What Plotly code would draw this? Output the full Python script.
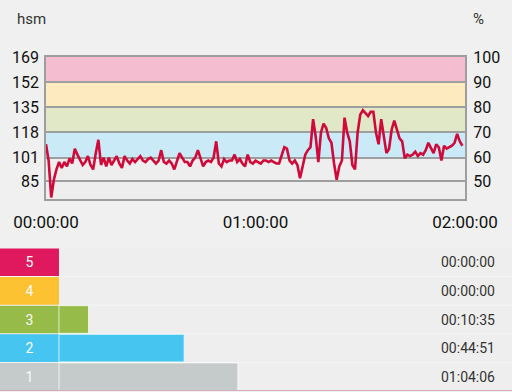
import plotly.graph_objects as go

# ---------------- data ----------------
SAMPLE_SECONDS = 45
heart_rate = [
    110, 99, 74, 86, 93, 98, 94, 98, 95, 100.5, 97, 107, 103, 99, 96, 98, 102, 96, 93, 104,
    113, 96, 101, 95, 101, 96, 99, 102, 97, 94, 102, 99, 97, 100, 98, 100, 102, 99, 98, 100,
    101,
    99, 97, 99, 106, 98, 97, 99, 97, 93, 99,
    104, 101, 98, 98, 95, 99, 101, 106, 100, 95,
    98, 99, 98, 101, 112, 97, 95, 100, 98, 99,
    99, 103, 98, 100, 97, 95, 103, 98, 97, 99,
    98, 97, 99, 99, 98, 99, 98, 97, 97, 103,
    108, 107, 99, 97, 99, 96, 87, 95, 103, 106,
    108, 127, 115, 98, 118, 124, 121, 114, 111, 97,
    86, 95, 99, 128, 118, 112, 96, 93, 118, 130,
    133, 131, 129, 132, 132, 118, 110, 127, 116, 104,
    107, 120, 126, 120, 114, 112, 100.5, 103, 102, 103,
    105, 102, 104, 103, 106, 111, 107, 104, 110, 108,
    99, 109, 107, 108, 109, 111, 117, 112, 109,
]
time_s = [i * SAMPLE_SECONDS for i in range(len(heart_rate))]

bpm_ticks = [85, 101, 118, 135, 152, 169]
pct_ticks = ["50", "60", "70", "80", "90", "100"]
y_min = 73
x_tick_vals = [0, 3600, 7200]
x_tick_text = ["00:00:00", "01:00:00", "02:00:00"]
band_colors = ["#c9eaf6", "#e1e8c8", "#fdeabf", "#f5bdd0"]

zones = ["1", "2", "3", "4", "5"]
zone_seconds = [3846, 2691, 635, 0, 0]
zone_text = ["01:04:06", "00:44:51", "00:10:35", "00:00:00", "00:00:00"]
zone_colors = ["#c5cbcb", "#45c5ef", "#97bb48", "#fdc231", "#e0195f"]

LABEL_BOX = 1268
BAR_MAX = 9740

W, H = 512, 392
FONT = "Roboto"

fig = go.Figure()

fig.add_trace(go.Scatter(
    x=time_s, y=heart_rate, mode="lines",
    line=dict(color="#cf0a3a", width=2.6), xaxis="x", yaxis="y",
    hoverinfo="skip", showlegend=False))
fig.add_trace(go.Scatter(
    x=[0], y=[bpm_ticks[0]], mode="markers", marker=dict(opacity=0),
    xaxis="x", yaxis="y3", hoverinfo="skip", showlegend=False))

rows = list(range(len(zones)))
fig.add_trace(go.Bar(
    y=rows, x=[LABEL_BOX] * len(zones), base=[-LABEL_BOX] * len(zones),
    orientation="h", width=0.965,
    marker=dict(color=zone_colors, line=dict(width=0)),
    text=zones, textposition="inside", insidetextanchor="middle",
    textangle=0, constraintext="none",
    textfont=dict(color="#fafafa", size=14, family=FONT),
    xaxis="x2", yaxis="y2", hoverinfo="skip", showlegend=False))
fig.add_trace(go.Bar(
    y=rows, x=zone_seconds, base=0, orientation="h", width=0.965,
    marker=dict(color=zone_colors,
                line=dict(width=1, color=["rgba(255,255,255,0.7)" if s > 0 else "rgba(0,0,0,0)"
                                          for s in zone_seconds])),
    xaxis="x2", yaxis="y2", hoverinfo="skip", showlegend=False))

shapes = []
for i, c in enumerate(band_colors):
    shapes.append(dict(type="rect", xref="x domain", x0=0, x1=1, yref="y",
                       y0=bpm_ticks[i + 1], y1=bpm_ticks[i + 2],
                       fillcolor=c, line=dict(width=0), layer="below"))
for r in rows[:-1]:
    shapes.append(dict(type="line", xref="paper", x0=0, x1=1, yref="y2",
                       y0=r + 0.5, y1=r + 0.5,
                       line=dict(color="rgba(255,255,255,0.45)", width=1), layer="below"))
shapes.append(dict(type="line", xref="paper", x0=0, x1=1, yref="y2",
                   y0=-0.5, y1=-0.5, line=dict(color="#cf95a6", width=1.5), layer="above"))

annotations = [
    dict(text="hsm", x=15 / W, y=1 - 19 / H, xref="paper", yref="paper",
         xanchor="left", yanchor="middle", showarrow=False,
         font=dict(size=15, color="#333333", family=FONT)),
    dict(text="%", x=471 / W, y=1 - 19 / H, xref="paper", yref="paper",
         xanchor="left", yanchor="middle", showarrow=False,
         font=dict(size=15, color="#333333", family=FONT)),
]
for r, t in zip(rows, zone_text):
    annotations.append(dict(text=t, x=497 / W, y=r, xref="paper", yref="y2",
                            xanchor="right", yanchor="middle", showarrow=False,
                            font=dict(size=14, color="#333333", family=FONT)))

frame = "#9e9e9e"
tick_color = "#111111"
fig.update_layout(
    template="none",
    width=W, height=H, autosize=False,
    margin=dict(l=0, r=0, t=0, b=0, pad=0, autoexpand=False),
    paper_bgcolor="#f0f0f0", plot_bgcolor="#eeeeee",
    font=dict(family=FONT, color=tick_color),
    showlegend=False, barmode="overlay",
    shapes=shapes, annotations=annotations,
    xaxis=dict(domain=[46 / W, 465 / W], range=[0, 7200], anchor="y", automargin=False,
               tickvals=x_tick_vals, ticktext=x_tick_text,
               showgrid=False, zeroline=False, showline=True, mirror=True,
               linecolor=frame, linewidth=1.5,
               ticks="outside", ticklen=7, tickcolor="rgba(0,0,0,0)",
               tickfont=dict(size=17, color=tick_color)),
    yaxis=dict(domain=[1 - 199 / H, 1 - 57 / H], range=[y_min, bpm_ticks[-1]], anchor="x",
               automargin=False,
               tickvals=bpm_ticks, ticktext=[str(v) for v in bpm_ticks],
               showgrid=True, gridcolor=frame, gridwidth=1.5, zeroline=False,
               showline=True, mirror=True, linecolor=frame, linewidth=1.5,
               ticks="outside", ticklen=2, tickcolor="rgba(0,0,0,0)",
               tickfont=dict(size=16, color=tick_color)),
    yaxis3=dict(overlaying="y", side="right", anchor="x", automargin=False,
                range=[y_min, bpm_ticks[-1]], tickvals=bpm_ticks, ticktext=pct_ticks,
                showgrid=False, zeroline=False, showline=False,
                ticks="outside", ticklen=4, tickcolor="rgba(0,0,0,0)",
                tickfont=dict(size=16, color=tick_color)),
    xaxis2=dict(domain=[0, 1], range=[-LABEL_BOX, BAR_MAX], anchor="y2", visible=False,
                automargin=False, fixedrange=True),
    yaxis2=dict(domain=[1 - 391 / H, 1 - 248 / H], range=[-0.5, 4.5], anchor="x2",
                visible=False, automargin=False, fixedrange=True),
)

fig.write_html(
    "out.html",
    config={"displayModeBar": False},
    post_script="document.body.style.margin='0';document.body.style.background='#f0f0f0';",
)
